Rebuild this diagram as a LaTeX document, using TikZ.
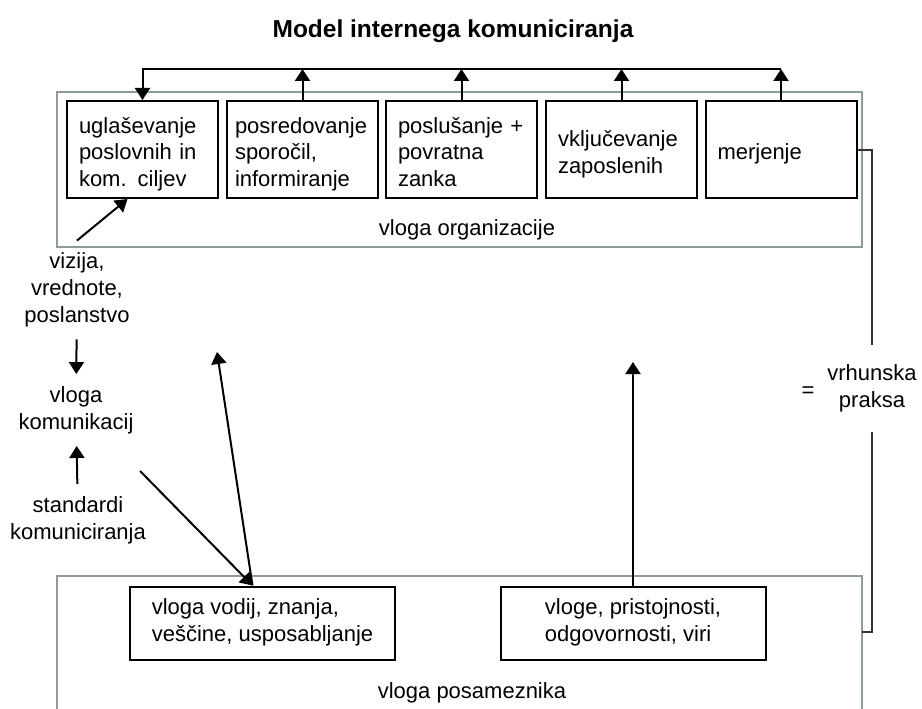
\documentclass[tikz,border=0pt]{standalone}
\usepackage{fontspec}
\setmainfont{Liberation Sans}
\usetikzlibrary{arrows.meta, positioning, calc}
\definecolor{okvirsiva}{HTML}{8E9B9B}

\begin{document}
\begin{tikzpicture}[x=1pt, y=-1pt,
  font=\fontsize{22}{27}\selectfont,
  vloga/.style={draw=okvirsiva, line width=2.2pt},
  gornji/.style={draw, line width=2pt, minimum width=151pt,
                 minimum height=97pt, text width=127pt, inner xsep=12pt,
                 align=left,
                 execute at begin node={\rule{0pt}{26pt}},
                 execute at end node={\rule[-5pt]{0pt}{5pt}}},
  spodnji/.style={draw, line width=2pt, minimum width=265pt,
                  minimum height=73pt, align=left,
                  execute at begin node={\rule{0pt}{24pt}},
                  execute at end node={\rule[-5pt]{0pt}{5pt}}},
  opis/.style={align=center, inner sep=12pt},
  arr/.style={-{Triangle[length=12pt,width=15pt]}, line width=2pt},
  crta/.style={line width=2pt, draw=black!80},
]
\useasboundingbox (0,0) rectangle (922,709);
\clip (0,0) rectangle (922,709);

%% Naslov
\node[font=\fontsize{24.5}{30}\selectfont\bfseries, anchor=base] (naslov)
  at (453,38) {Model internega komuniciranja};

%% Vloga organizacije (zgoraj)
\draw[vloga] (57,92) rectangle (862,247);
\node[gornji] (uskl) at (142.5,149.5) {uglaševanje\\poslovnih in\\kom. ciljev};
\node[gornji, inner xsep=8pt, text width=135pt] (posr) at (302.5,149.5)
  {posredovanje\\sporočil,\\informiranje};
\node[gornji] (posl) at (461.5,149.5) {poslušanje +\\povratna\\zanka};
\node[gornji] (vklj) at (621.5,149.5) {vključevanje\\zaposlenih};
\node[gornji] (merj) at (781,149.5) {merjenje};
\node (orgnapis) at (467,230) {vloga organizacije};

%% Povratna zanka
\coordinate (povr) at (0,69);
\foreach \b in {posr, posl, vklj, merj}
  \draw[arr] (\b.north) -- (\b.north |- povr);
\draw[arr] (merj.north |- povr) -| (uskl.north);

%% Leva stran
\node[opis] (vizija) at (77,290) {vizija,\\vrednote,\\poslanstvo};
\node[opis] (vlkom) at (76,410) {vloga\\komunikacij};
\node[opis] (stand) at (78,520) {standardi\\komuniciranja};
\draw[arr] (vizija.north) -- ([xshift=-15pt]uskl.south);
\draw[arr] (vizija) -- (vlkom);
\draw[arr] (stand) -- (vlkom);

%% Vloga posameznika (spodaj)
\draw[vloga] (57,576) rectangle (862,740);
\node[spodnji] (vodij) at (262.5,623) {vloga vodij, znanja,\\veščine, usposabljanje};
\node[spodnji] (vloge) at (633,623) {vloge, pristojnosti,\\odgovornosti, viri};
\node (posnapis) at (472,693) {vloga posameznika};

\coordinate (vrh1) at (217,352);
\coordinate (vrh2) at (633,362);
\draw[arr] ([shift={(-18,-13)}]stand.north east) -- ([xshift=-10pt]vodij.north);
\draw[arr] ([xshift=-10pt]vodij.north) -- (vrh1);
\draw[arr] (vloge.north) -- (vloge.north |- vrh2);

%% Desna stran
\node[opis, minimum height=87pt] (vrh) at (872,388.5) {vrhunska\\praksa};
\node (enako) at (808,392) {=};
\coordinate (posdesno) at (862,632);
\draw[crta] (merj.east) -| (vrh.north);
\draw[crta] (vrh.south) |- (posdesno);
\end{tikzpicture}
\end{document}
